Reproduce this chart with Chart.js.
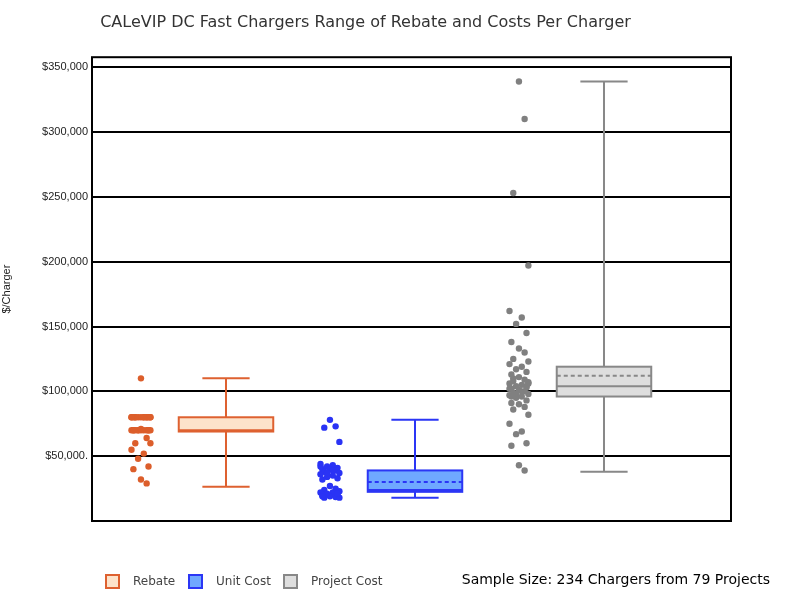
<!DOCTYPE html>
<html>
<head>
<meta charset="utf-8">
<script src="https://cdn.jsdelivr.net/npm/chart.js@4.4.1/dist/chart.umd.min.js"></script>
<style>
  body { margin: 0; background: #fff; }
  #wrap { width: 810px; height: 608px; }
</style>
</head>
<body>
<div id="wrap"><canvas id="boxChart"></canvas></div>
<script>
const groupNames = ['Rebate', 'Unit Cost', 'Project Cost'];
const lineColors = ['#DE6130', '#2B36F5', '#888888'];
const fillColors = ['#FDE3CA', '#6FA8FF', '#DEDEDE'];
const pointColors = ['#DC5E2B', '#2A33F5', '#808080'];

// box stats per group: [low whisker, q1, median, q3, high whisker, mean]
const rebateStats = [26500, 69000, 70000, 80000, 110000, 69500];
const unitStats = [18000, 22500, 24000, 39000, 78000, 30000];
const projectStats = [38000, 96000, 104000, 119000, 339000, 112000];

// individual values, $/charger
const rebatePoints = [110000, 80000, 80000, 80000, 80000, 80000, 80000, 80000, 80000, 80000, 80000, 80000, 80000, 80000, 80000,
  70000, 70000, 70000, 70000, 70000, 70000, 70000, 70000, 70000, 70000, 70000, 70000, 71000,
  64000, 60000, 60000, 55000, 52000, 48000, 42000, 40000, 32000, 29000];
const unitPoints = [78000, 73000, 72000, 61000, 44000, 43000, 42000, 41000, 40000, 40000, 39000, 38000, 37000, 36000, 35000, 34000,
  33000, 32000, 27000, 25000, 24000, 23000, 22000, 22000, 21000, 20000, 20000, 19000, 18500, 18000, 18000, 42000, 39000, 37000, 21000, 19000];
const projectPoints = [339000, 310000, 253000, 197000, 162000, 157000, 152000, 145000, 138000, 133000, 130000, 125000, 123000, 121000,
  119000, 117000, 115000, 113000, 111000, 109000, 108000, 107000, 106000, 105000, 104000, 103000, 102000, 101000, 100000,
  99000, 98000, 97000, 96000, 95000, 93000, 91000, 90000, 88000, 86000, 82000, 75000, 69000, 67000, 60000, 58000, 43000, 39000,
  110000, 106000, 102000, 100000, 98000, 104000, 96000];
const yTicks = [50000, 100000, 150000, 200000, 250000, 300000, 350000];

const allStats = [rebateStats, unitStats, projectStats];
const allPoints = [rebatePoints, unitPoints, projectPoints];
const pointOffset = -0.225;
const boxOffset = 0.225;
const jitter = [0, 0.03, -0.03, 0.05, -0.05, 0.015, -0.015, 0.04, -0.04];

function makePoints(values, group) {
    return values.map((v, i) => ({x: group + pointOffset + jitter[i % jitter.length], y: v}));
}

const boxPlugin = {
    id: 'boxes',
    afterDatasetsDraw(chart) {
        const {ctx, scales: {x, y}, chartArea} = chart;
        ctx.save();
        allStats.forEach((s, g) => {
            const cx = x.getPixelForValue(g + boxOffset);
            const half = (x.getPixelForValue(0.25) - x.getPixelForValue(0)) ;
            const cap = half / 2;
            const [lo, q1, med, q3, hi, mean] = s.map(v => y.getPixelForValue(v));
            ctx.strokeStyle = lineColors[g];
            ctx.lineWidth = 2;
            ctx.beginPath();
            ctx.moveTo(cx, hi); ctx.lineTo(cx, q3);
            ctx.moveTo(cx, q1); ctx.lineTo(cx, lo);
            ctx.moveTo(cx - cap, hi); ctx.lineTo(cx + cap, hi);
            ctx.moveTo(cx - cap, lo); ctx.lineTo(cx + cap, lo);
            ctx.stroke();
            ctx.fillStyle = fillColors[g];
            ctx.fillRect(cx - half, q3, half * 2, q1 - q3);
            ctx.strokeRect(cx - half, q3, half * 2, q1 - q3);
            ctx.beginPath();
            ctx.moveTo(cx - half, med); ctx.lineTo(cx + half, med);
            ctx.stroke();
            ctx.setLineDash([4, 3]);
            ctx.beginPath();
            ctx.moveTo(cx - half, mean); ctx.lineTo(cx + half, mean);
            ctx.stroke();
            ctx.setLineDash([]);
        });
        // frame
        ctx.strokeStyle = '#000';
        ctx.lineWidth = 2;
        ctx.strokeRect(chartArea.left, chartArea.top, chartArea.right - chartArea.left, chartArea.bottom - chartArea.top);

        // legend
        ctx.font = '12px "DejaVu Sans", Arial, sans-serif';
        ctx.textBaseline = 'middle';
        const legendX = [106, 189, 284];
        groupNames.forEach((name, g) => {
            ctx.fillStyle = fillColors[g];
            ctx.strokeStyle = lineColors[g];
            ctx.lineWidth = 2;
            ctx.fillRect(legendX[g], 575, 13, 13);
            ctx.strokeRect(legendX[g], 575, 13, 13);
            ctx.fillStyle = '#444';
            ctx.fillText(name, legendX[g] + 27, 582);
        });
        ctx.font = '14px "DejaVu Sans", Arial, sans-serif';
        ctx.fillStyle = '#000';
        ctx.textAlign = 'right';
        ctx.fillText('Sample Size: 234 Chargers from 79 Projects', 770, 580);
        ctx.restore();
    }
};

new Chart(document.getElementById('boxChart'), {
    type: 'scatter',
    plugins: [boxPlugin],
    data: {
        datasets: allPoints.map((vals, g) => ({
            label: groupNames[g],
            data: makePoints(vals, g),
            backgroundColor: pointColors[g],
            borderWidth: 0,
            pointRadius: 3.2
        }))
    },
    options: {
        responsive: true,
        maintainAspectRatio: false,
        animation: false,
        layout: {padding: {top: 0, right: 79, bottom: 0, left: 0}},
        plugins: {
            legend: {display: false},
            tooltip: {enabled: false},
            title: {
                display: true,
                text: 'CALeVIP DC Fast Chargers Range of Rebate and Costs Per Charger',
                color: '#333',
                font: {size: 16, weight: 'normal', family: '"DejaVu Sans", Arial, sans-serif'},
                padding: {top: 13, bottom: 25}
            }
        },
        scales: {
            x: {
                type: 'linear',
                min: -0.484,
                max: 2.897,
                display: false,
                afterFit: s => { s.height = 87; }
            },
            y: {
                min: 0,
                max: 357700,
                afterFit: s => { s.width = 92; },
                afterBuildTicks: s => { s.ticks = yTicks.map(v => ({value: v})); },
                border: {display: false},
                grid: {color: '#000', lineWidth: 2, drawTicks: false},
                ticks: {
                    color: '#222',
                    padding: 4,
                    font: {size: 11, family: 'Arial, "Liberation Sans", sans-serif'},
                    callback: v => '$' + v.toLocaleString('en-US') + (v === 50000 ? '.' : '')
                },
                title: {
                    display: true,
                    text: '$/Charger',
                    color: '#222',
                    font: {size: 11, family: 'Arial, "Liberation Sans", sans-serif'},
                    padding: {top: 0, bottom: 6}
                }
            }
        }
    }
});
</script>
</body>
</html>
